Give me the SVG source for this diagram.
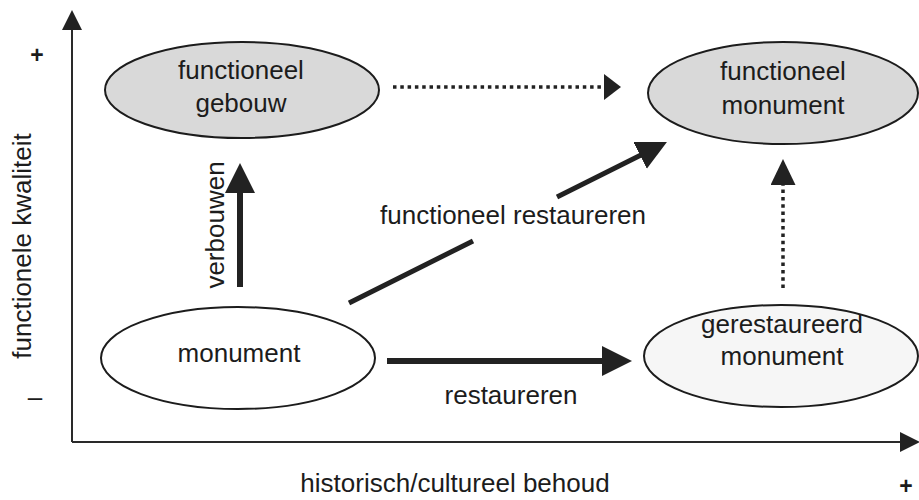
<svg xmlns="http://www.w3.org/2000/svg" width="919" height="500" viewBox="0 0 919 500">
  <style>
    text { font-family: "Liberation Sans", Arial, sans-serif; font-size: 26px; fill: #1c1c1c; }
    .mid { text-anchor: middle; }
    .sign { font-weight: bold; }
    .small { font-size: 23px; }
    .node { stroke: #1c1c1c; stroke-width: 2; }
    .grey { fill: #d9d9d9; }
    .pale { fill: #f6f6f6; }
    .white { fill: #ffffff; }
    .axis { stroke: #2a2a2a; stroke-width: 2; fill: none; }
    .solid { stroke: #222; stroke-width: 6; fill: none; }
    .dotted { stroke: #222; stroke-width: 3.5; stroke-dasharray: 3.5 3.8; fill: none; }
    .head { fill: #222; }
  </style>
  <defs>
    <marker id="ah-axis" viewBox="0 -10 20 20" refX="1" refY="0" markerWidth="20" markerHeight="20" markerUnits="userSpaceOnUse" orient="auto">
      <path class="head" d="M0,-10 L20,0 L0,10 z"/>
    </marker>
    <marker id="ah-solid" viewBox="0 -15 30 30" refX="1" refY="0" markerWidth="30" markerHeight="30" markerUnits="userSpaceOnUse" orient="auto">
      <path class="head" d="M0,-15 L30,0 L0,15 z"/>
    </marker>
    <marker id="ah-dot-h" viewBox="0 -13 17 26" refX="1" refY="0" markerWidth="17" markerHeight="26" markerUnits="userSpaceOnUse" orient="auto">
      <path class="head" d="M0,-13 L17,0 L0,13 z"/>
    </marker>
    <marker id="ah-dot-v" viewBox="0 -12.5 26 25" refX="1" refY="0" markerWidth="26" markerHeight="25" markerUnits="userSpaceOnUse" orient="auto">
      <path class="head" d="M0,-12.5 L26,0 L0,12.5 z"/>
    </marker>
  </defs>

  <!-- axes -->
  <g id="axes">
    <path class="axis" d="M72,442 L72,29" marker-end="url(#ah-axis)"/>
    <path class="axis" d="M72,442 L901,442" marker-end="url(#ah-axis)"/>
    <text transform="translate(31,246) rotate(-90)" class="mid">functionele kwaliteit</text>
    <text x="455" y="492" class="mid">historisch/cultureel behoud</text>
    <text x="37" y="63" class="mid sign small">+</text>
    <text x="35" y="406" class="mid">–</text>
    <text x="906" y="494" class="mid sign small">+</text>
  </g>

  <!-- connectors -->
  <g id="connectors">
    <path class="dotted" d="M393,87 L605,87" marker-end="url(#ah-dot-h)"/>
    <path class="dotted" d="M783,288 L783,184" marker-end="url(#ah-dot-v)"/>
    <path class="solid" d="M240,287 L240,192" marker-end="url(#ah-solid)"/>
    <text transform="translate(224,225) rotate(-90)" class="mid">verbouwen</text>
    <path class="solid" d="M387,361 L603,361" marker-end="url(#ah-solid)"/>
    <text x="511" y="404" class="mid">restaureren</text>
    <path class="solid" style="stroke-width:5" d="M349,303 L473,241"/>
    <path class="solid" style="stroke-width:5" d="M557,197 L641,155" marker-end="url(#ah-solid)"/>
    <text x="513" y="224" class="mid">functioneel restaureren</text>
  </g>

  <!-- nodes -->
  <g id="functioneel-gebouw">
    <ellipse class="node grey" cx="242" cy="90" rx="137" ry="48"/>
    <text x="241" y="79" class="mid">functioneel</text>
    <text x="241" y="112" class="mid">gebouw</text>
  </g>
  <g id="functioneel-monument">
    <ellipse class="node grey" cx="783" cy="93" rx="135" ry="51"/>
    <text x="783" y="80" class="mid">functioneel</text>
    <text x="783" y="114" class="mid">monument</text>
  </g>
  <g id="monument">
    <ellipse class="node white" cx="238" cy="358" rx="137" ry="51"/>
    <text x="239" y="362" class="mid">monument</text>
  </g>
  <g id="gerestaureerd-monument">
    <ellipse class="node pale" cx="781" cy="356" rx="137" ry="51"/>
    <text x="782" y="333" class="mid">gerestaureerd</text>
    <text x="782" y="365" class="mid">monument</text>
  </g>
</svg>
